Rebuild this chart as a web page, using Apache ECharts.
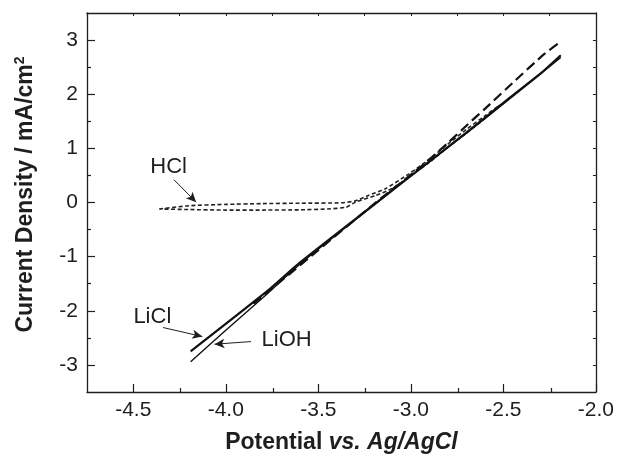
<!DOCTYPE html>
<html><head><meta charset="utf-8">
<script src="https://cdn.jsdelivr.net/npm/echarts@6/dist/echarts.min.js"></script>
<style>html,body{margin:0;padding:0;background:#fff}#c{width:617px;height:459px}</style>
</head><body><div id="c"></div>
<script>
// ---- data ----
const xMajor = [-4.5, -4.0, -3.5, -3.0, -2.5, -2.0];
const xMinor = [-4.25, -3.75, -3.25, -2.75, -2.25];
const yMajor = [-3, -2, -1, 0, 1, 2, 3];
const yMinor = [-2.5, -1.5, -0.5, 0.5, 1.5, 2.5];

const liclX = [-4.19, -3.77, -3.6, -3.17, -2.96, -2.7, -2.46, -2.3, -2.19];
const liclY = [-2.75, -1.62, -1.11, 0.04, 0.6, 1.29, 1.95, 2.38, 2.72];

const liohX = [-4.19, -4.0, -3.8, -3.6, -3.3, -3.0, -2.7, -2.46, -2.19];
const liohY = [-2.94, -2.36, -1.76, -1.14, -0.32, 0.49, 1.28, 1.93, 2.68];

const dashX = [-3.85, -3.5, -3.2, -2.95, -2.8, -2.69, -2.6, -2.44, -2.28, -2.19];
const dashY = [-1.87, -0.88, -0.03, 0.65, 1.1, 1.45, 1.73, 2.24, 2.74, 2.97];

const hclX = [-4.36, -4.2, -4.0, -3.8, -3.6, -3.37, -3.3, -3.23, -3.14, -3.01, -2.9, -2.8, -2.7, -2.6, -2.52,
              -2.6, -2.7, -2.8, -2.9, -3.0, -3.1, -3.19, -3.3, -3.35, -3.45, -3.6, -3.8, -4.0, -4.2, -4.36];
const hclY = [-0.12, -0.06, -0.035, -0.02, -0.013, -0.005, 0.03, 0.13, 0.25, 0.53, 0.8, 1.08, 1.35, 1.6, 1.8,
              1.55, 1.28, 1.02, 0.74, 0.5, 0.26, 0.13, 0.006, -0.087, -0.12, -0.135, -0.14, -0.14, -0.13, -0.12];

const labels = ['HCl', 'LiCl', 'LiOH'];
const labelPos = [[-4.309, 0.648], [-4.397, -2.111], [-3.671, -2.537]];
const arrowFrom = [[-4.28, 0.42], [-4.339, -2.309], [-3.864, -2.569]];
const arrowTo = [[-4.16, 0.006], [-4.127, -2.476], [-4.061, -2.617]];

const xTitle = ['Potential ', 'vs. Ag/AgCl'];
const yTitle = ['Current Density / mA/cm', '2'];

// ---- chart ----
const FF = '"Liberation Sans", Arial, Helvetica, sans-serif';
const INK = '#1e1e1e';
const zip = (a, b) => a.map((v, i) => [v, b[i]]);
const gridRect = { left: 87, right: 19, top: 13, bottom: 67 };

const chart = echarts.init(document.getElementById('c'), null, { renderer: 'canvas' });

const axisBase = (min, max) => ({
  type: 'value', min, max, scale: false,
  splitLine: { show: false },
  axisLine: { show: false, onZero: false }
});

const option = {
  animation: false,
  backgroundColor: '#fff',
  grid: [Object.assign({}, gridRect), Object.assign({}, gridRect)],
  xAxis: [
    Object.assign(axisBase(-4.75, -2.0), {
      gridIndex: 0, position: 'bottom',
      axisLine: { show: true, onZero: false, lineStyle: { color: INK, width: 1.3 } },
      axisTick: { show: true, inside: true, length: 8, customValues: xMajor, lineStyle: { color: INK, width: 1.2 } },
      axisLabel: { customValues: xMajor, margin: 8, color: INK, fontSize: 21, fontFamily: FF,
        formatter: v => v.toFixed(1) },
      name: '{b|' + xTitle[0] + '}{i|' + xTitle[1] + '}',
      nameLocation: 'middle', nameGap: 39,
      nameTextStyle: { rich: {
        b: { fontSize: 23, fontWeight: 'bold', fontFamily: FF, color: INK },
        i: { fontSize: 23, fontWeight: 'bold', fontStyle: 'italic', fontFamily: FF, color: INK }
      } }
    }),
    Object.assign(axisBase(-4.75, -2.0), {
      gridIndex: 0, position: 'top',
      axisLine: { show: true, onZero: false, lineStyle: { color: INK, width: 1.3 } },
      axisTick: { show: true, inside: true, length: 3, customValues: xMajor.concat(xMinor), lineStyle: { color: INK, width: 1 } },
      axisLabel: { show: false }
    }),
    Object.assign(axisBase(-4.75, -2.0), {
      gridIndex: 1, position: 'bottom',
      axisTick: { show: true, inside: true, length: 4, customValues: xMinor, lineStyle: { color: INK, width: 1.2 } },
      axisLabel: { show: false }
    })
  ],
  yAxis: [
    Object.assign(axisBase(-3.5, 3.5), {
      gridIndex: 0, position: 'left',
      axisLine: { show: true, onZero: false, lineStyle: { color: INK, width: 1.3 } },
      axisTick: { show: true, inside: true, length: 8, customValues: yMajor, lineStyle: { color: INK, width: 1.2 } },
      axisLabel: { customValues: yMajor, margin: 9, color: INK, fontSize: 21, fontFamily: FF,
        formatter: v => String(v) },
      name: '{b|' + yTitle[0] + '}{s|' + yTitle[1] + '}',
      nameLocation: 'middle', nameGap: 48, nameRotate: 90,
      nameTextStyle: { padding: [0, 0, 0, 16], rich: {
        b: { fontSize: 23, fontWeight: 'bold', fontFamily: FF, color: INK, lineHeight: 26 },
        s: { fontSize: 14, fontWeight: 'bold', fontFamily: FF, color: INK, verticalAlign: 'top', lineHeight: 26 }
      } }
    }),
    Object.assign(axisBase(-3.5, 3.5), {
      gridIndex: 0, position: 'right',
      axisLine: { show: true, onZero: false, lineStyle: { color: INK, width: 1.3 } },
      axisTick: { show: true, inside: true, length: 3, customValues: yMajor.concat(yMinor), lineStyle: { color: INK, width: 1 } },
      axisLabel: { show: false }
    }),
    Object.assign(axisBase(-3.5, 3.5), {
      gridIndex: 1, position: 'left',
      axisTick: { show: true, inside: true, length: 4, customValues: yMinor, lineStyle: { color: INK, width: 1.2 } },
      axisLabel: { show: false }
    })
  ],
  series: [
    {
      name: 'HCl', type: 'line', xAxisIndex: 0, yAxisIndex: 0, data: zip(hclX, hclY),
      showSymbol: false, smooth: 0.2, lineStyle: { color: '#222', width: 1.6, type: [4, 2.5] }
    },
    {
      name: 'LiOH', type: 'line', xAxisIndex: 0, yAxisIndex: 0, data: zip(liohX, liohY),
      showSymbol: false, smooth: 0.2, lineStyle: { color: '#111', width: 1.4 }
    },
    {
      name: 'dashed', type: 'line', xAxisIndex: 0, yAxisIndex: 0, data: zip(dashX, dashY),
      showSymbol: false, smooth: 0.2, lineStyle: { color: '#111', width: 2.2, type: [10, 5] }
    },
    {
      name: 'LiCl', type: 'line', xAxisIndex: 0, yAxisIndex: 0, data: zip(liclX, liclY),
      showSymbol: false, smooth: 0.2, lineStyle: { color: '#111', width: 2.2 },
      markLine: {
        silent: true, animation: false,
        symbol: ['none', 'arrow'], symbolSize: [7, 10],
        lineStyle: { color: INK, width: 1, type: 'solid' },
        label: { show: false },
        data: arrowFrom.map((p, i) => [{ coord: p }, { coord: arrowTo[i] }])
      },
      markPoint: {
        silent: true, animation: false,
        symbol: 'circle', symbolSize: 0,
        label: { show: true, position: 'inside', color: INK, fontSize: 22, fontFamily: FF,
          formatter: p => p.name },
        data: labels.map((t, i) => ({ name: t, coord: labelPos[i] }))
      }
    }
  ]
};
chart.setOption(option);
</script></body></html>
